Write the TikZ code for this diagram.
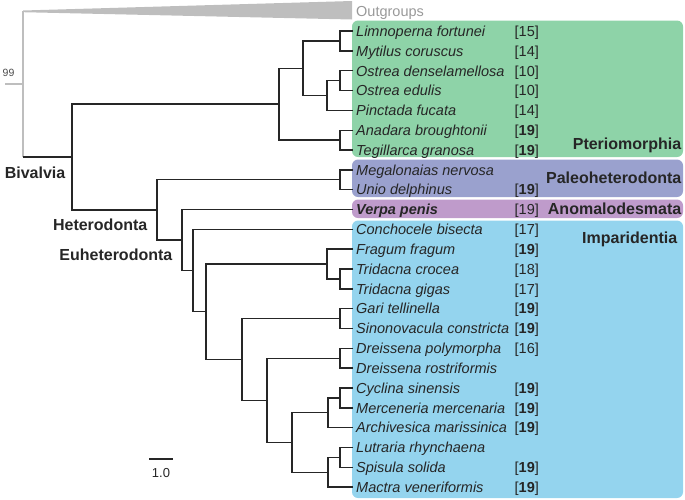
\documentclass[tikz,border=0pt]{standalone}
\usepackage{fontspec}
\setmainfont{Liberation Sans}
\usetikzlibrary{positioning}
\definecolor{pterio}{HTML}{8ED3A8}
\definecolor{paleo}{HTML}{9AA1CE}
\definecolor{anomal}{HTML}{BF9BCB}
\definecolor{impar}{HTML}{94D4EE}
\definecolor{outgr}{HTML}{BEBEBE}
\definecolor{branch}{HTML}{262626}

\begin{document}
\begin{tikzpicture}[x=1pt,y=-1pt,line width=1.4pt,color=branch,
	leaf/.style={anchor=west,inner sep=0pt,inner xsep=2.5pt,text height=11pt,text depth=0.4pt,font=\fontsize{14.5}{16}\selectfont\itshape},
	ref/.style={anchor=west,inner sep=0pt,text height=11pt,text depth=0.4pt,font=\fontsize{14.5}{16}\selectfont},
	clade/.style={anchor=east,inner sep=0pt,text height=11.5pt,text depth=0pt,font=\fontsize{16}{18}\selectfont\bfseries},
	box/.style={rounded corners=6pt}]
	\useasboundingbox (0,0) rectangle (685,499);
	% coloured clade boxes
	\fill[box,pterio] (352,20.5) rectangle (683,157);
	\fill[box,paleo]  (352,159.5) rectangle (683,197);
	\fill[box,anomal] (352,199.5) rectangle (683,218);
	\fill[box,impar]  (352,220.5) rectangle (683,498);
	% outgroups (collapsed)
	\coordinate (og) at (23,10.5);
	\fill[outgr] (og) -- (352,1) -- (352,19.5) -- (23,12.2) -- cycle;
	\node[leaf,font=\fontsize{14.5}{16}\selectfont,text=black!40] (out) at (353,11) {Outgroups};
	% leaves
	\node[leaf] (l1)  at (353,31)    {Limnoperna fortunei};     \node[ref] (r1)  at (514,31)    {[15]};
	\node[leaf] (l2)  at (353,50.8)  {Mytilus coruscus};        \node[ref] (r2)  at (514,50.8)  {[14]};
	\node[leaf] (l3)  at (353,70.7)  {Ostrea denselamellosa};   \node[ref] (r3)  at (514,70.7)  {[10]};
	\node[leaf] (l4)  at (353,90.5)  {Ostrea edulis};           \node[ref] (r4)  at (514,90.5)  {[10]};
	\node[leaf] (l5)  at (353,110.3) {Pinctada fucata};         \node[ref] (r5)  at (514,110.3) {[14]};
	\node[leaf] (l6)  at (353,130.2) {Anadara broughtonii};     \node[ref] (r6)  at (514,130.2) {[\textbf{19}]};
	\node[leaf] (l7)  at (353,150)   {Tegillarca granosa};      \node[ref] (r7)  at (514,150)   {[\textbf{19}]};
	\node[leaf] (l8)  at (353,169.8) {Megalonaias nervosa};
	\node[leaf] (l9)  at (353,189.6) {Unio delphinus};          \node[ref] (r9)  at (514,189.6) {[\textbf{19}]};
	\node[leaf] (l10) at (353,209.5) {\bfseries Verpa penis};   \node[ref] (r10) at (514,209.5) {[19]};
	\node[leaf] (l11) at (353,229.3) {Conchocele bisecta};      \node[ref] (r11) at (514,229.3) {[17]};
	\node[leaf] (l12) at (353,249.1) {Fragum fragum};           \node[ref] (r12) at (514,249.1) {[\textbf{19}]};
	\node[leaf] (l13) at (353,269)   {Tridacna crocea};         \node[ref] (r13) at (514,269)   {[18]};
	\node[leaf] (l14) at (353,288.8) {Tridacna gigas};          \node[ref] (r14) at (514,288.8) {[17]};
	\node[leaf] (l15) at (353,308.6) {Gari tellinella};         \node[ref] (r15) at (514,308.6) {[\textbf{19}]};
	\node[leaf] (l16) at (353,328.5) {Sinonovacula constricta}; \node[ref] (r16) at (514,328.5) {[\textbf{19}]};
	\node[leaf] (l17) at (353,348.3) {Dreissena polymorpha};    \node[ref] (r17) at (514,348.3) {[16]};
	\node[leaf] (l18) at (353,368.1) {Dreissena rostriformis};
	\node[leaf] (l19) at (353,387.9) {Cyclina sinensis};        \node[ref] (r19) at (514,387.9) {[\textbf{19}]};
	\node[leaf] (l20) at (353,407.8) {Merceneria mercenaria};   \node[ref] (r20) at (514,407.8) {[\textbf{19}]};
	\node[leaf] (l21) at (353,427.6) {Archivesica marissinica}; \node[ref] (r21) at (514,427.6) {[\textbf{19}]};
	\node[leaf] (l22) at (353,447.4) {Lutraria rhynchaena};
	\node[leaf] (l23) at (353,467.3) {Spisula solida};          \node[ref] (r23) at (514,467.3) {[\textbf{19}]};
	\node[leaf] (l24) at (353,487.1) {Mactra veneriformis};     \node[ref] (r24) at (514,487.1) {[\textbf{19}]};
	% internal nodes
	\coordinate (mt) at (340,40.9);
	\coordinate (os) at (340,80.6);
	\coordinate (op) at (327,95.5);
	\coordinate (up) at (303,68.2);
	\coordinate (ar) at (340,140.1);
	\coordinate (pt) at (279,104.1);
	\coordinate (pa) at (340,179.7);
	\coordinate (tr) at (340,278.9);
	\coordinate (ft) at (327,264);
	\coordinate (gs) at (340,318.6);
	\coordinate (dr) at (340,358.2);
	\coordinate (cm) at (340,397.9);
	\coordinate (ca) at (328,412.7);
	\coordinate (ls) at (340,457.4);
	\coordinate (lm) at (328,472.2);
	\coordinate (vn) at (292,442.5);
	\coordinate (dv) at (267,400.3);
	\coordinate (gd) at (242,359.5);
	\coordinate (fg) at (206,311.7);
	\coordinate (ip) at (193,270.5);
	\coordinate (eu) at (182,240);
	\coordinate (he) at (157,209.9);
	\coordinate (bi) at (72,157);
	\coordinate (rs) at (5,84);
	% branches
	\draw (l1.west) -| (mt) |- (l2.west);
	\draw (l3.west) -| (os) |- (l4.west);
	\draw (os) -| (op) |- (l5.west);
	\draw (mt) -| (up) |- (op);
	\draw (l6.west) -| (ar) |- (l7.west);
	\draw (up) -| (pt) |- (ar);
	\draw (l8.west) -| (pa) |- (l9.west);
	\draw (l13.west) -| (tr) |- (l14.west);
	\draw (l12.west) -| (ft) |- (tr);
	\draw (l15.west) -| (gs) |- (l16.west);
	\draw (l17.west) -| (dr) |- (l18.west);
	\draw (l19.west) -| (cm) |- (l20.west);
	\draw (cm) -| (ca) |- (l21.west);
	\draw (l22.west) -| (ls) |- (l23.west);
	\draw (ls) -| (lm) |- (l24.west);
	\draw (ca) -| (vn) |- (lm);
	\draw (dr) -| (dv) |- (vn);
	\draw (gs) -| (gd) |- (dv);
	\draw (ft) -| (fg) |- (gd);
	\draw (l11.west) -| (ip) |- (fg);
	\draw (l10.west) -| (eu) |- (ip);
	\draw (pa) -| (he) |- (eu);
	\draw (pt) -| (bi) |- (he);
	\draw[outgr] (og) -- (og |- bi);
	\draw[outgr] (rs) -- (rs -| og);
	\draw (og |- bi) -- (bi);
	% clade names
	\node[clade] (ptl) at (682,144) {Pteriomorphia};
	\node[clade] (pal) at (682,178) {Paleoheterodonta};
	\node[clade] (anl) at (682,209) {Anomalodesmata};
	\node[clade] (iml) at (678,238) {Imparidentia};
	\node[clade] (bvl) at (66,173)  {Bivalvia};
	\node[clade] (hel) at (148,225) {Heterodonta};
	\node[clade] (eul) at (173,255) {Euheterodonta};
	% support and scale
	\node[anchor=west,inner sep=0pt,font=\fontsize{10.5}{12}\selectfont,text=black!70] (bs) at (2,73) {99};
	\coordinate (sa) at (149,459);
	\coordinate (sb) at (173,459);
	\draw (sa) -- (sb);
	\node[inner sep=0pt,font=\fontsize{13}{14}\selectfont] (sl) at (161,473) {1.0};
\end{tikzpicture}
\end{document}
